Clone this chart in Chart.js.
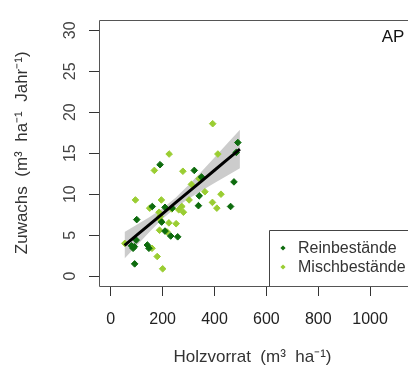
<!DOCTYPE html>
<html><head><meta charset="utf-8">
<script src="https://cdn.jsdelivr.net/npm/chart.js@4.4.0/dist/chart.umd.min.js"></script>
<style>html,body{margin:0;padding:0;background:#fff;overflow:hidden}#wrap{width:411px;height:375px;position:relative}</style>
</head><body><div id="wrap"><canvas id="c" width="411" height="375"></canvas></div>
<script>
// ---- data ----
const xTicks = [0, 200, 400, 600, 800, 1000];
const yTicks = [0, 5, 10, 15, 20, 25, 30];
const panelLabel = 'AP';
const legendLabels = ['Reinbestände', 'Mischbestände'];
const xTitle = 'Holzvorrat  (m³  ha⁻¹)';
const yTitle = 'Zuwachs  (m³  ha⁻¹  Jahr⁻¹)';

// Reinbestände (dark green)
const reinX = [490, 484, 190, 322, 350, 475, 341, 462, 338, 160, 209, 237, 100, 196, 209, 231, 258, 98, 80, 86, 91, 141, 147, 92];
const reinY = [16.3, 15.1, 13.6, 12.9, 12.1, 11.5, 9.8, 8.5, 8.6, 8.5, 8.4, 8.3, 6.9, 6.6, 5.5, 4.9, 4.8, 4.4, 3.7, 3.4, 3.6, 3.8, 3.4, 1.5];
// Mischbestände (light green)
const mischX = [393, 413, 225, 168, 278, 341, 311, 363, 425, 302, 392, 409, 95, 195, 150, 235, 262, 274, 280, 186, 190, 193, 224, 252, 188, 217, 54, 159, 179, 200];
const mischY = [18.6, 14.9, 14.9, 12.9, 12.8, 11.9, 11.2, 10.3, 10.0, 9.3, 9.0, 8.3, 9.3, 9.3, 8.3, 8.2, 8.1, 8.5, 7.8, 7.8, 7.3, 6.8, 6.5, 6.4, 5.6, 5.4, 4.0, 3.4, 2.4, 0.9];

// regression line and confidence band
const fitX = [53, 100, 150, 200, 250, 300, 350, 400, 450, 498];
const fitY = [3.76, 5.0, 6.32, 7.64, 8.96, 10.28, 11.6, 12.92, 14.24, 15.51];
const bandLow = [2.14, 3.74, 5.41, 6.99, 8.34, 9.44, 10.42, 11.36, 12.28, 13.16];
const bandHigh = [5.38, 6.26, 7.23, 8.29, 9.58, 11.12, 12.78, 14.48, 16.2, 17.86];

// ---- styles ----
const DG = '#0d6b0d';
const LG = '#9acd32';
const FONT = 'Liberation Sans, Arial, sans-serif';
const pts = (xs, ys) => xs.map((x, i) => ({x, y: ys[i]}));

const overlay = {
  id: 'overlay',
  afterDraw(chart) {
    const {ctx, chartArea: a} = chart;
    ctx.save();
    // box
    ctx.strokeStyle = '#555';
    ctx.lineWidth = 1;
    ctx.beginPath();
    ctx.moveTo(a.right + 2, Math.round(a.top) + 0.5);
    ctx.lineTo(Math.round(a.left) + 0.5, Math.round(a.top) + 0.5);
    ctx.lineTo(Math.round(a.left) + 0.5, Math.round(a.bottom) + 0.5);
    ctx.lineTo(a.right + 2, Math.round(a.bottom) + 0.5);
    ctx.stroke();
    // panel label
    ctx.fillStyle = '#111';
    ctx.font = '17px ' + FONT;
    ctx.textAlign = 'center';
    ctx.textBaseline = 'middle';
    ctx.fillText(panelLabel, 393, 37);
    // legend box
    const lx = 269.5, ly = 230.5;
    ctx.strokeStyle = '#444';
    ctx.beginPath();
    ctx.moveTo(a.right + 2, ly);
    ctx.lineTo(lx, ly);
    ctx.lineTo(lx, Math.round(a.bottom) + 0.5);
    ctx.stroke();
    const cols = [DG, LG];
    const ys = [248, 267];
    ctx.font = '16px ' + FONT;
    ctx.textAlign = 'left';
    for (let i = 0; i < 2; i++) {
      ctx.fillStyle = cols[i];
      ctx.beginPath();
      const cx = 283, cy = ys[i], r = 2.6;
      ctx.moveTo(cx, cy - r); ctx.lineTo(cx + r, cy); ctx.lineTo(cx, cy + r); ctx.lineTo(cx - r, cy); ctx.closePath();
      ctx.fill();
      ctx.fillStyle = '#333';
      ctx.fillText(legendLabels[i], 298, cy + 1);
    }
    ctx.restore();
  }
};

new Chart(document.getElementById('c'), {
  type: 'scatter',
  data: {
    datasets: [
      {label: 'fit', data: pts(fitX, fitY), showLine: true, borderColor: '#000', borderWidth: 3, pointRadius: 0, order: 0},
      {label: legendLabels[0], data: pts(reinX, reinY), pointStyle: 'rectRot', pointRadius: 3.3, backgroundColor: DG, borderColor: DG, borderWidth: 1, order: 1},
      {label: legendLabels[1], data: pts(mischX, mischY), pointStyle: 'rectRot', pointRadius: 3.3, backgroundColor: LG, borderColor: LG, borderWidth: 1, order: 2},
      {label: 'upper', data: pts(fitX, bandHigh), showLine: true, borderWidth: 0, borderColor: 'rgba(0,0,0,0)', pointRadius: 0, fill: false, order: 4},
      {label: 'lower', data: pts(fitX, bandLow), showLine: true, borderWidth: 0, borderColor: 'rgba(0,0,0,0)', pointRadius: 0, fill: '-1', backgroundColor: '#cccccc', order: 3}
    ]
  },
  options: {
    responsive: false, animation: false, events: [],
    layout: {padding: {top: 14, right: 0, left: 0, bottom: 0}},
    plugins: {legend: {display: false}, tooltip: {enabled: false}},
    scales: {
      x: {
        type: 'linear', min: -45.5, max: 1138.5,
        afterBuildTicks: s => { s.ticks = xTicks.map(v => ({value: v})); },
        afterFit: s => { s.height = 89; },
        grid: {drawOnChartArea: false, drawTicks: true, tickLength: 10, color: '#333', tickColor: '#333'},
        border: {display: false},
        ticks: {color: '#222', font: {family: FONT, size: 16}, padding: 14, maxRotation: 0, minRotation: 0, autoSkip: false, callback: v => String(v)},
        title: {display: true, text: xTitle, color: '#333', font: {family: FONT, size: 17}, padding: {top: 7, bottom: 7}}
      },
      y: {
        type: 'linear', min: -1.2, max: 31.3,
        afterBuildTicks: s => { s.ticks = yTicks.map(v => ({value: v})); },
        afterFit: s => { s.width = 99; },
        grid: {drawOnChartArea: false, drawTicks: true, tickLength: 10, color: '#333', tickColor: '#333'},
        border: {display: false},
        ticks: {color: '#444', font: {family: FONT, size: 16}, padding: 10, minRotation: 90, maxRotation: 90, crossAlign: 'center', autoSkip: false, callback: v => String(v)},
        title: {display: true, text: yTitle, color: '#333', font: {family: FONT, size: 17}, padding: {top: 12, bottom: 8}}
      }
    }
  },
  plugins: [overlay]
});
</script></body></html>
